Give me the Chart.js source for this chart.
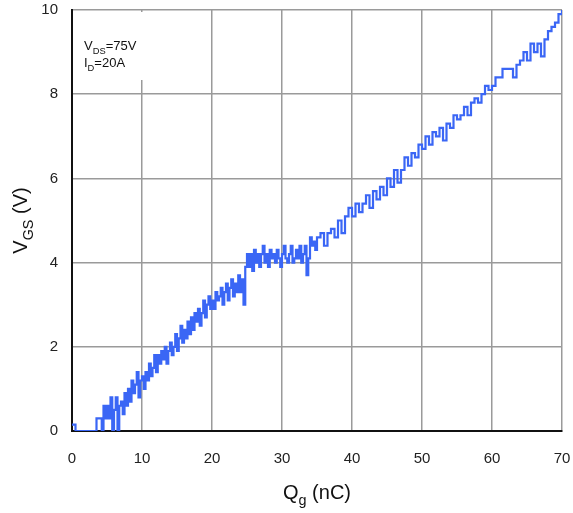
<!DOCTYPE html>
<html>
<head>
<meta charset="utf-8">
<script src="https://cdn.jsdelivr.net/npm/chart.js@4"></script>
<style>
  html, body { margin: 0; padding: 0; background: #fff; }
  #wrap { width: 573px; height: 513px; }
</style>
</head>
<body>
<div id="wrap"><canvas id="gate-chart" width="573" height="513"></canvas></div>
<script>
// Заряд затвора Qg (нКл): шаг 0.25 до 35, дальше 0.5
const qg = []
for (let i = 0; i <= 140; i++) qg.push(i * 0.25)
for (let i = 1; i <= 70; i++) qg.push(35 + i * 0.5)

// Напряжение затвор-исток Vgs (В)
const vgs = [
  // 0..35 нКл, по 4 точки на нКл
  0.15, 0.15, 0, 0,   0, 0, 0, 0,   0, 0, 0, 0,   0, 0, 0.3, 0.3,
  0.3, 0.0, 0.6, 0.3,   0.6, 0.3, 0.8, 0.0,   0.5, 0.8, 0.0, 0.6,   0.7, 0.4, 0.9, 0.6,
  1.0, 0.7, 1.2, 0.9,   1.1, 1.4, 0.8, 1.2,   1.3, 1.0, 1.4, 1.2,   1.6, 1.3, 1.5, 1.8,
  1.4, 1.8, 1.6, 1.9,   1.7, 2.0, 1.6, 1.9,   2.1, 1.8, 2.0, 2.3,   1.9, 2.2, 2.5, 2.1,
  2.4, 2.2, 2.6, 2.3,   2.7, 2.4, 2.8, 2.6,   2.9, 2.5, 2.8, 3.1,   2.7, 3.0, 3.2, 2.9,
  3.1, 2.9, 3.3, 3.1,   3.2, 3.4, 3.0, 3.3,   3.5, 3.1, 3.4, 3.6,   3.2, 3.5, 3.3, 3.7,
  3.3, 3.6, 3.0, 3.9,   4.2, 3.9, 4.2, 3.8,   4.3, 4.0, 4.2, 3.9,   4.2, 4.4, 4.0, 4.2,
  3.9, 4.3, 4.1, 4.2,   4.0, 4.3, 4.1, 3.9,   4.2, 4.4, 4.1, 4.0,   4.2, 4.4, 4.0, 4.1,
  4.3, 4.1, 4.4, 4.0,   4.2, 4.4, 3.7, 4.1,   4.6, 4.4, 4.5, 4.3,   4.6,
  // 35.5..70 нКл, по 2 точки на нКл
  4.7, 4.4, 4.7, 4.8, 4.6, 5.0, 4.7, 5.1, 5.3,
  5.1, 5.4, 5.2, 5.4, 5.6, 5.3, 5.7, 5.5, 5.8, 5.6,
  6.0, 5.8, 6.2, 5.9, 6.2, 6.5, 6.3, 6.6, 6.5, 6.8,
  6.7, 7.0, 6.8, 7.1, 7.0, 7.2, 6.9, 7.3, 7.2, 7.5,
  7.4, 7.5, 7.7, 7.5, 7.8, 7.9, 7.8, 8.0, 8.2, 8.1,
  8.2, 8.4, 8.4, 8.6, 8.6, 8.6, 8.4, 8.7, 8.8, 9.0,
  8.8, 9.2, 9.0, 9.2, 8.9, 9.3, 9.5, 9.6, 9.7, 9.9,
  10.0
]

const xTicks = [0, 10, 20, 30, 40, 50, 60, 70]
const yTicks = [0, 2, 4, 6, 8, 10]

const points = qg.map((x, i) => ({ x: x, y: vgs[i] }))

const fontFamily = 'Liberation Sans, Arial, sans-serif'

// Подписи с индексами: рисуем вручную
function subText(ctx, parts, x, y, size) {
  let cx = x
  parts.forEach(p => {
    const s = p.sub ? size * 0.72 : size
    ctx.font = s + 'px ' + fontFamily
    ctx.fillText(p.t, cx, y + (p.sub ? size * 0.3 : 0))
    cx += ctx.measureText(p.t).width
  })
  return cx - x
}

function measureParts(ctx, parts, size) {
  let w = 0
  parts.forEach(p => {
    ctx.font = (p.sub ? size * 0.72 : size) + 'px ' + fontFamily
    w += ctx.measureText(p.t).width
  })
  return w
}

const labelsPlugin = {
  id: 'labels',
  beforeDatasetsDraw(chart) {
    const ctx = chart.ctx
    const a = chart.chartArea
    ctx.save()
    ctx.fillStyle = '#fff'
    ctx.fillRect(a.left + 2, a.top + 2, 72, 68)
    ctx.restore()
  },
  afterDraw(chart) {
    const ctx = chart.ctx
    const a = chart.chartArea
    ctx.save()
    ctx.fillStyle = '#111'
    ctx.textBaseline = 'alphabetic'
    ctx.textAlign = 'left'
    // Условия измерения
    subText(ctx, [{ t: 'V' }, { t: 'DS', sub: true }, { t: '=75V' }], a.left + 12, a.top + 40, 13)
    subText(ctx, [{ t: 'I' }, { t: 'D', sub: true }, { t: '=20A' }], a.left + 12, a.top + 57, 13)

    // Ось X
    const xParts = [{ t: 'Q' }, { t: 'g', sub: true }, { t: ' (nC)' }]
    const xw = measureParts(ctx, xParts, 20)
    subText(ctx, xParts, (a.left + a.right) / 2 - xw / 2, 499, 20)

    // Ось Y
    const yParts = [{ t: 'V' }, { t: 'GS', sub: true }, { t: ' (V)' }]
    const yw = measureParts(ctx, yParts, 20)
    ctx.translate(27, (a.top + a.bottom) / 2)
    ctx.rotate(-Math.PI / 2)
    subText(ctx, yParts, -yw / 2, 0, 20)
    ctx.restore()
  }
}

const config = {
  type: 'line',
  data: {
    datasets: [{
      data: points,
      borderColor: '#3a66f5',
      borderWidth: 2.2,
      pointRadius: 0,
      stepped: true,
      fill: false
    }]
  },
  options: {
    responsive: false,
    animation: false,
    layout: { padding: { top: 10, right: 11, left: 0, bottom: 0 } },
    plugins: {
      legend: { display: false },
      tooltip: { enabled: false }
    },
    scales: {
      x: {
        type: 'linear',
        min: 0,
        max: 70,
        afterBuildTicks: axis => { axis.ticks = xTicks.map(v => ({ value: v })) },
        afterFit: axis => {
          axis.height = 82
          axis.paddingLeft = 0
          axis.paddingRight = 0
        },
        grid: { color: '#9a9a9a', lineWidth: 1.5, drawTicks: false },
        border: { color: '#111', width: 2 },
        ticks: {
          padding: 19,
          color: '#222',
          font: { family: fontFamily, size: 15 }
        }
      },
      y: {
        min: 0,
        max: 10,
        afterBuildTicks: axis => { axis.ticks = yTicks.map(v => ({ value: v })) },
        afterFit: axis => {
          axis.width = 72
          axis.paddingTop = 0
          axis.paddingBottom = 0
        },
        grid: { color: '#9a9a9a', lineWidth: 1.5, drawTicks: false },
        border: { color: '#111', width: 2 },
        ticks: {
          padding: 14,
          color: '#222',
          font: { family: fontFamily, size: 15 }
        }
      }
    }
  },
  plugins: [labelsPlugin]
}

try {
  new Chart(document.getElementById('gate-chart'), config)
} catch (error) {
  console.error(`Ошибка рендеринга графика: ${error}`)
}
</script>
</body>
</html>
